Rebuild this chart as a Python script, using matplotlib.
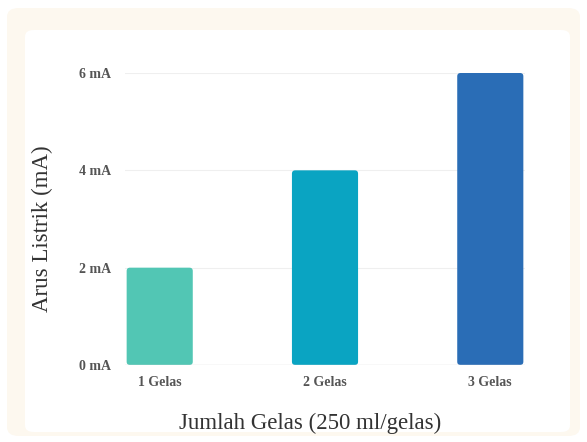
import matplotlib.pyplot as plt
from matplotlib.patches import FancyBboxPatch

# data
categories = ["1 Gelas", "2 Gelas", "3 Gelas"]
currents = [2, 4, 6]  # mA
colors = ["#52c6b4", "#0aa4c2", "#2a6db6"]
y_ticks = [0, 2, 4, 6]
y_tick_labels = ["0 mA", "2 mA", "4 mA", "6 mA"]

plt.rcParams['font.family'] = ['Liberation Serif', 'DejaVu Serif']

fig = plt.figure(figsize=(5.87, 4.42), dpi=100)
fig.patch.set_facecolor("white")

# cream card with white inner panel (kept behind the axes)
W, H = 587, 442
outer = FancyBboxPatch((7 / W, 6 / H), 573 / W, 428 / H,
                       boxstyle="round,pad=0,rounding_size=0.02",
                       transform=fig.transFigure, facecolor="#fdf8ef",
                       edgecolor="none", zorder=-3)
inner = FancyBboxPatch((25 / W, 10 / H), 545 / W, 402 / H,
                       boxstyle="round,pad=0,rounding_size=0.015",
                       transform=fig.transFigure, facecolor="white",
                       edgecolor="none", zorder=-2)
fig.patches.extend([outer, inner])

ax = fig.add_axes([125 / W, 1 - 365 / H, 400 / W, 292 / H])
ax.set_facecolor("none")
ax.set_zorder(1)

x = list(range(len(categories)))
bars = ax.bar(x, currents, width=0.4, color=colors)
# swap plain rectangles for slightly rounded ones
for b in bars:
    b.set_visible(False)
    rb = FancyBboxPatch((b.get_x(), b.get_y()), b.get_width(), b.get_height(),
                        boxstyle="round,pad=0,rounding_size=0.02",
                        mutation_aspect=3.4, facecolor=b.get_facecolor(),
                        edgecolor="none", zorder=3)
    ax.add_patch(rb)

ax.set_xlim(-0.21, 2.21)
ax.set_ylim(0, 6)
ax.set_yticks(y_ticks)
ax.set_yticklabels(y_tick_labels)
ax.set_xticks(x)
ax.set_xticklabels(categories)
for lab in ax.get_yticklabels() + ax.get_xticklabels():
    lab.set_fontweight("bold")
    lab.set_fontsize(10)
    lab.set_color("#555555")
ax.tick_params(axis="both", length=0)
ax.tick_params(axis="y", pad=10)
ax.tick_params(axis="x", pad=8)

for v in y_ticks[1:]:
    ax.axhline(v, color="#efefef", linewidth=0.8, zorder=1)
ax.axhline(0, color="#dddddd", linewidth=1.0, zorder=4)

for s in ax.spines.values():
    s.set_visible(False)

ax.set_ylabel("Arus Listrik (mA)", fontsize=16.5, color="#333333", va="center")
ax.set_xlabel("Jumlah Gelas (250 ml/gelas)", fontsize=16.5, color="#333333",
              va="center")
ax.yaxis.set_label_coords(-0.2075, 0.466)
ax.xaxis.set_label_coords(0.4625, -0.199)

fig.savefig("out.png", dpi=100, facecolor=fig.get_facecolor())
